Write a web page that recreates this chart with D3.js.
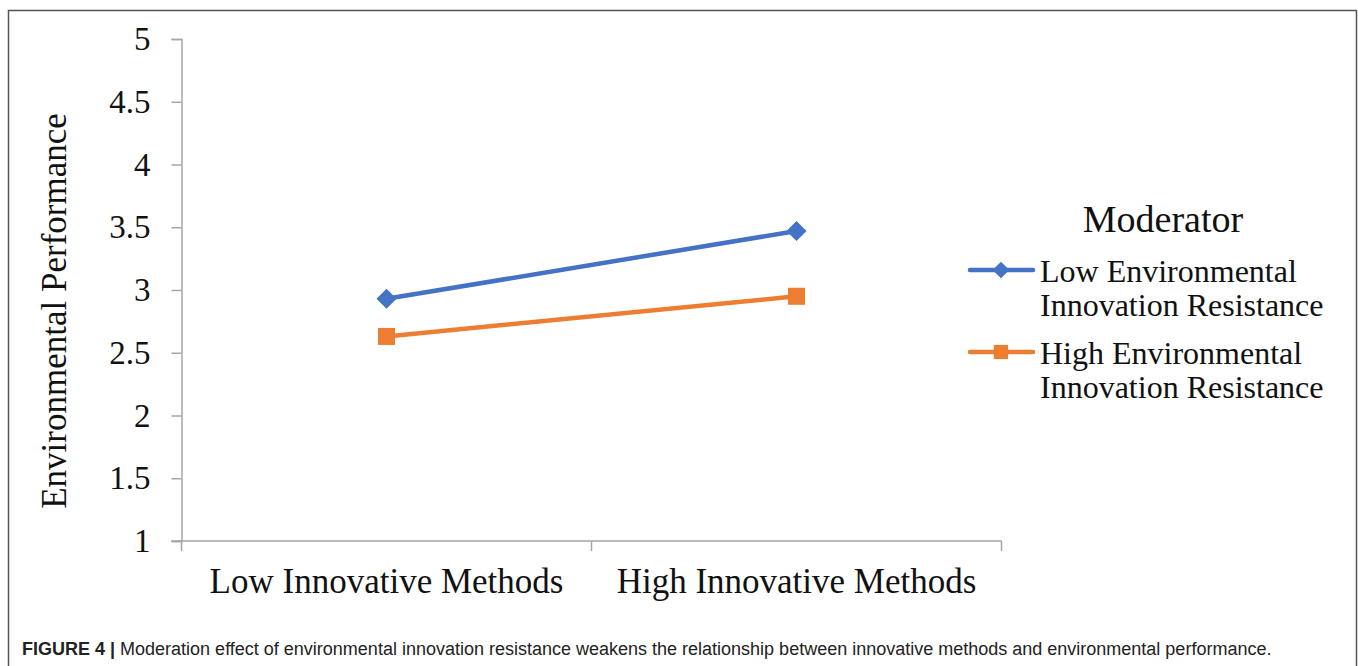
<!DOCTYPE html>
<html>
<head>
<meta charset="utf-8">
<script src="https://cdn.jsdelivr.net/npm/d3@7"></script>
<style>
  body { margin: 0; background: #fff; }
  svg { display: block; }
</style>
</head>
<body>
<div id="chart"></div>
<script>
const categories = ["Low Innovative Methods", "High Innovative Methods"];
const seriesNames = ["Low Environmental Innovation Resistance", "High Environmental Innovation Resistance"];
const lowResistance = [2.93, 3.47];
const highResistance = [2.63, 2.95];
const yTicks = [1, 1.5, 2, 2.5, 3, 3.5, 4, 4.5, 5];
const colors = ["#4472C4", "#ED7D31"];

const W = 1358, H = 666;
const svg = d3.select("#chart").append("svg")
  .attr("width", W).attr("height", H);

// outer frame (bottom runs off the image)
svg.append("path")
  .attr("d", "M8.5,700 V10.5 H1356.5 V700")
  .attr("fill", "none").attr("stroke", "#555").attr("stroke-width", 1.5);

const plot = {left: 181.5, right: 1001.5, top: 39, bottom: 541};

const x = d3.scaleBand().domain(categories).range([plot.left, plot.right]).padding(0);
const y = d3.scaleLinear().domain([1, 5]).range([plot.bottom, plot.top]);

const serif = "'Liberation Serif', 'Times New Roman', serif";
const axisColor = "#a6a6a6";

// y axis
const yAxis = svg.append("g")
  .attr("transform", `translate(${plot.left},0)`)
  .call(d3.axisLeft(y).tickValues(yTicks).tickFormat(d => d3.format("")(d)).tickSize(10).tickPadding(21));
yAxis.select(".domain").attr("stroke", axisColor).attr("stroke-width", 1.5);
yAxis.selectAll(".tick line").attr("stroke", axisColor).attr("stroke-width", 1.5);
yAxis.selectAll(".tick text").attr("font-family", serif).attr("font-size", 33).attr("fill", "#111");

// x axis
const xAxis = svg.append("g")
  .attr("transform", `translate(0,${plot.bottom})`)
  .call(d3.axisBottom(x).tickSize(0).tickPadding(27));
xAxis.select(".domain").attr("d", `M${plot.left - 10},0H${plot.right}`)
  .attr("stroke", axisColor).attr("stroke-width", 1.5);
xAxis.selectAll(".tick text").attr("font-family", serif).attr("font-size", 35).attr("fill", "#111");
// category boundary ticks
const bounds = [plot.left, plot.left + x.bandwidth(), plot.right];
xAxis.selectAll(".bound").data(bounds).enter().append("line")
  .attr("x1", d => d).attr("x2", d => d).attr("y1", 0).attr("y2", 10)
  .attr("stroke", axisColor).attr("stroke-width", 1.5);

// y label
svg.append("text")
  .attr("transform", `translate(66,${(plot.top + plot.bottom) / 2 + 21}) rotate(-90)`)
  .attr("text-anchor", "middle")
  .attr("font-family", serif).attr("font-size", 35).attr("fill", "#111")
  .text("Environmental Performance");

const series = [lowResistance, highResistance];
const cx = c => x(c) + x.bandwidth() / 2;
const line = d3.line().x((d, i) => cx(categories[i])).y(d => y(d));

// diamond = square turned 45°
const markers = [
  {size: 200, rot: 45},
  {size: 290, rot: 0}
];

series.forEach((vals, s) => {
  svg.append("path").datum(vals)
    .attr("d", line).attr("fill", "none")
    .attr("stroke", colors[s]).attr("stroke-width", 4.5);
  svg.selectAll(".m" + s).data(vals).enter().append("path")
    .attr("transform", (d, i) => `translate(${cx(categories[i])},${y(d)}) rotate(${markers[s].rot})`)
    .attr("d", d3.symbol().type(d3.symbolSquare).size(markers[s].size))
    .attr("fill", colors[s]);
});

// legend
const lg = svg.append("g");
lg.append("text").attr("x", 1163).attr("y", 232).attr("text-anchor", "middle")
  .attr("font-family", serif).attr("font-size", 38).attr("fill", "#111").text("Moderator");

const legendRows = [
  {y: 270, lines: ["Low Environmental", "Innovation Resistance"]},
  {y: 352, lines: ["High Environmental", "Innovation Resistance"]}
];
legendRows.forEach((r, s) => {
  lg.append("line").attr("x1", 970).attr("x2", 1033).attr("y1", r.y).attr("y2", r.y)
    .attr("stroke", colors[s]).attr("stroke-width", 4.5).attr("stroke-linecap", "round");
  lg.append("path").attr("transform", `translate(1001,${r.y}) rotate(${markers[s].rot})`)
    .attr("d", d3.symbol().type(d3.symbolSquare).size(markers[s].size * 0.7))
    .attr("fill", colors[s]);
  r.lines.forEach((t, k) => {
    lg.append("text").attr("x", 1040).attr("y", r.y + 12 + k * 34)
      .attr("font-family", serif).attr("font-size", 32).attr("fill", "#111").text(t);
  });
});

// caption
const cap = svg.append("text").attr("x", 22).attr("y", 655)
  .attr("font-family", "'Liberation Sans', Arial, sans-serif").attr("font-size", 18).attr("fill", "#222");
cap.append("tspan").attr("font-weight", "bold").text("FIGURE 4 | ");
cap.append("tspan").text("Moderation effect of environmental innovation resistance weakens the relationship between innovative methods and environmental performance.");
</script>
</body>
</html>
